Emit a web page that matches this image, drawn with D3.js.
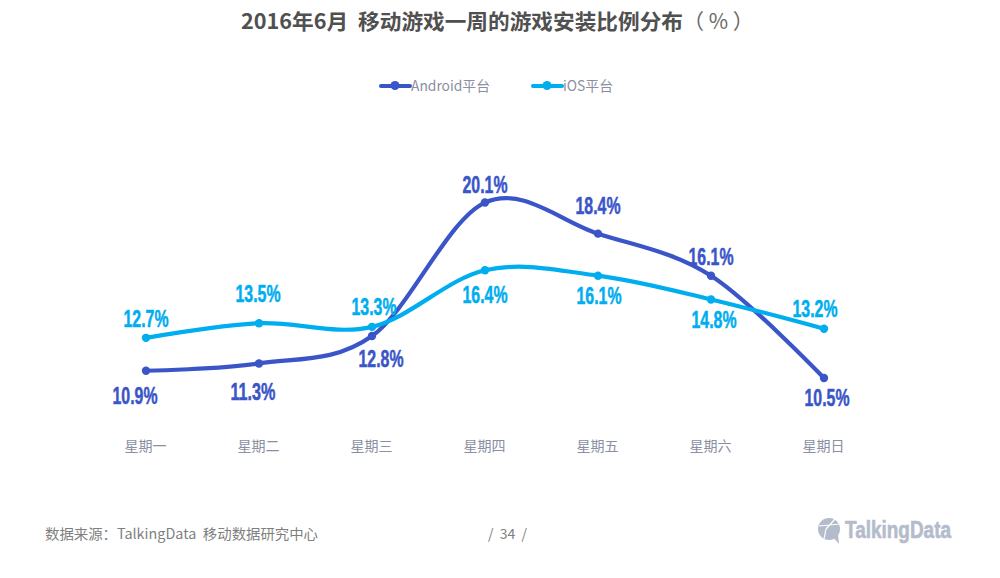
<!DOCTYPE html>
<html>
<head>
<meta charset="utf-8">
<script src="https://cdn.jsdelivr.net/npm/d3@7"></script>
<style>
    html, body { margin: 0; padding: 0; background: #fff; }
    text { font-family: "Noto Sans CJK SC", "Noto Sans", sans-serif; }
    .val { font-family: "Liberation Sans", sans-serif; font-weight: bold; font-size: 23px; text-anchor: middle; stroke-width: 0.5px; }
</style>
</head>
<body>
<svg id="chart" width="1000" height="578"></svg>
<script>
var days = ['星期一', '星期二', '星期三', '星期四', '星期五', '星期六', '星期日'];
var android = [10.9, 11.3, 12.8, 20.1, 18.4, 16.1, 10.5];
var ios = [12.7, 13.5, 13.3, 16.4, 16.1, 14.8, 13.2];

//label offsets from the point, dx then dy (baseline)
var androidLabels = [[-11, 33], [-6, 37], [9, 31], [0, -10], [0, -20], [0, -11], [3, 28]];
var iosLabels = [[0, -11], [-1, -21], [2, -12], [0, 33], [1, 28], [3, 29], [-9, -12]];

var svg = d3.select('#chart');
var x = d3.scalePoint().domain(days).range([146, 824]);
var y = d3.scaleLinear().domain([10, 20]).range([387.2, 204.4]);

svg.append('text').attr('x', 241).attr('y', 29)
    .attr('font-size', 21).attr('fill', '#505050').attr('font-weight', 'bold')
    .attr('textLength', 442).attr('lengthAdjust', 'spacingAndGlyphs')
    .attr('xml:space', 'preserve').text('2016年6月  移动游戏一周的游戏安装比例分布');
svg.append('text').attr('x', 683).attr('y', 29)
    .attr('font-size', 21).attr('fill', '#6a6a6a').attr('font-weight', 'normal')
    .text('（ % ）');

//x axis, labels only
var axis = svg.append('g').attr('transform', 'translate(0,438)')
    .call(d3.axisBottom(x).tickSize(0).tickPadding(3));
axis.select('.domain').remove();
axis.selectAll('text').attr('font-size', 14).attr('fill', '#8b8fa3').attr('dx', -1)
    .style('font-family', '"Noto Sans CJK SC", sans-serif');

var line = d3.curveCardinal.tension(0);

function drawSeries(values, color, labels) {
    var path = d3.line()
        .x(function (d, i) { return x(days[i]); })
        .y(function (d) { return y(d); })
        .curve(line);
    svg.append('path').datum(values).attr('d', path)
        .attr('fill', 'none').attr('stroke', color).attr('stroke-width', 4.2);
    svg.selectAll(null).data(values).enter().append('circle')
        .attr('cx', function (d, i) { return x(days[i]); })
        .attr('cy', function (d) { return y(d); })
        .attr('r', 4.2).attr('fill', color);
    svg.selectAll(null).data(values).enter().append('text')
        .attr('class', 'val')
        .attr('x', function (d, i) { return x(days[i]) + labels[i][0]; })
        .attr('y', function (d, i) { return y(d) + labels[i][1]; })
        .attr('fill', color).attr('stroke', color)
        .attr('textLength', 45).attr('lengthAdjust', 'spacingAndGlyphs')
        .text(function (d) { return d.toFixed(1) + '%'; });
}
drawSeries(android, '#3a55c8', androidLabels);
drawSeries(ios, '#00aeef', iosLabels);

//legend
function legendItem(x0, color, label, width) {
    svg.append('line').attr('x1', x0 + 1).attr('x2', x0 + 30).attr('y1', 86).attr('y2', 86)
        .attr('stroke', color).attr('stroke-width', 4).attr('stroke-linecap', 'round');
    svg.append('circle').attr('cx', x0 + 15).attr('cy', 85.5).attr('r', 4.5).attr('fill', color);
    svg.append('text').attr('x', x0 + 31).attr('y', 91).attr('font-size', 14)
        .attr('fill', '#8b8fa3').attr('textLength', width).attr('lengthAdjust', 'spacingAndGlyphs')
        .text(label);
}
legendItem(380, '#3a55c8', 'Android平台', 79);
legendItem(532, '#00aeef', 'iOS平台', 50);

//footer
svg.append('text').attr('x', 45).attr('y', 539).attr('font-size', 14).attr('fill', '#7f7f7f')
    .attr('textLength', 273).attr('lengthAdjust', 'spacingAndGlyphs')
    .attr('xml:space', 'preserve').text('数据来源：TalkingData  移动数据研究中心');
svg.append('text').attr('x', 507.5).attr('y', 539).attr('font-size', 14).attr('fill', '#7f7f7f')
    .attr('text-anchor', 'middle').attr('xml:space', 'preserve').text('/  34  /');

//logo
var logo = svg.append('g').attr('fill', '#b4bccb');
logo.append('circle').attr('cx', 829).attr('cy', 529).attr('r', 11);
logo.append('path').attr('d', 'M832 536L839 544L838 534Z');
logo.append('path').attr('d', 'M819 526L840 524M826 529L835 519M826 529L824 539')
    .attr('stroke', '#fff').attr('stroke-width', 1.2).attr('fill', 'none');
logo.append('text').attr('x', 845).attr('y', 538).attr('font-size', 24).attr('font-weight', 'bold')
    .attr('stroke', '#b4bccb').attr('stroke-width', 0.6)
    .attr('textLength', 106).attr('lengthAdjust', 'spacingAndGlyphs')
    .style('font-family', '"Liberation Sans", sans-serif').text('TalkingData');
</script>
</body>
</html>
